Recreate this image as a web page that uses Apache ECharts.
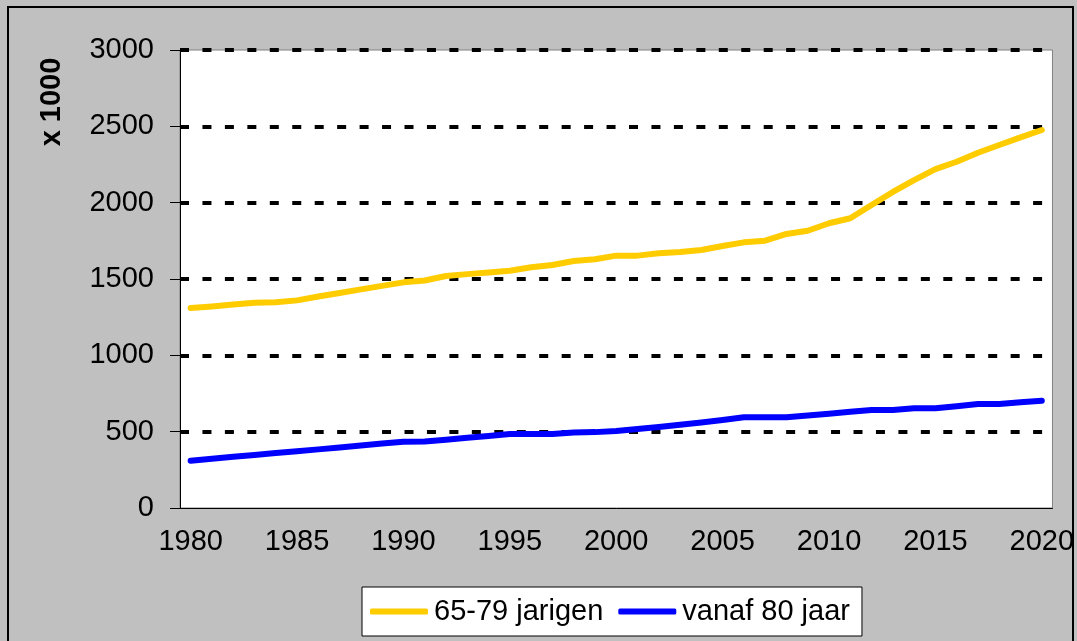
<!DOCTYPE html>
<html>
<head>
<meta charset="utf-8">
<script src="https://cdn.jsdelivr.net/npm/echarts@6/dist/echarts.min.js"></script>
<style>
  html, body { margin: 0; padding: 0; background: #c0c0c0; }
  #chart { width: 1077px; height: 641px; }
</style>
</head>
<body>
<div id="chart"></div>
<script>
// jaartallen 1980 - 2020
const years = [];
for (let y = 1980; y <= 2020; y++) years.push(String(y));

// 65-79 jarigen (x 1000)
const age65to79 = [
    1310, 1320, 1333, 1345, 1347, 1360, 1385, 1408, 1432, 1455,
    1478, 1490, 1520, 1532, 1543, 1554, 1577, 1592, 1618, 1629,
    1653, 1653, 1668, 1677, 1690, 1716, 1740, 1751, 1795, 1816,
    1865, 1898, 1985, 2070, 2148, 2220, 2268, 2327, 2378, 2428,
    2476
];

// vanaf 80 jaar (x 1000)
const age80plus = [
    310, 322, 335, 347, 360, 372, 384, 397, 409, 422,
    434, 435, 447, 460, 472, 485, 485, 485, 495, 497,
    505, 518, 530, 545, 560, 576, 594, 594, 594, 606,
    618, 630, 642, 642, 653, 653, 667, 681, 681, 692,
    703
];

const seriesNames = ['65-79 jarigen', 'vanaf 80 jaar'];
const yTicks = { min: 0, max: 3000, step: 500 };

const font = 'Arial, "Liberation Sans", sans-serif';

const myChart = echarts.init(document.getElementById('chart'));
const option = {
    backgroundColor: '#c0c0c0',
    animation: false,
    grid: {
        left: 180,
        top: 50,
        right: 20,
        bottom: 133,
        show: true,
        backgroundColor: '#ffffff',
        borderColor: '#808080',
        borderWidth: 1
    },
    legend: {
        data: seriesNames,
        left: 362,
        top: 587,
        orient: 'horizontal',
        padding: [10, 12, 10, 8],
        itemGap: 15,
        itemWidth: 58,
        itemHeight: 6,
        icon: 'roundRect',
        backgroundColor: '#ffffff',
        borderColor: '#000000',
        borderWidth: 1,
        textStyle: {
            fontFamily: font,
            fontSize: 29,
            color: '#000',
            padding: [0, 0, 0, 1]
        }
    },
    xAxis: {
        type: 'category',
        data: years,
        boundaryGap: true,
        axisLine: { lineStyle: { color: '#000', width: 1 } },
        axisTick: { interval: 4, length: 8, lineStyle: { color: '#000' } },
        axisLabel: {
            interval: 4,
            margin: 19,
            fontFamily: font,
            fontSize: 29,
            color: '#000'
        },
        splitLine: { show: false }
    },
    yAxis: {
        type: 'value',
        min: yTicks.min,
        max: yTicks.max,
        interval: yTicks.step,
        axisLine: { show: true, lineStyle: { color: '#000', width: 1 } },
        axisTick: { show: true, length: 10, lineStyle: { color: '#000' } },
        axisLabel: {
            margin: 26,
            fontFamily: font,
            fontSize: 29,
            color: '#000',
            formatter: function (v) { return String(v); }
        },
        splitLine: {
            show: true,
            showMinLine: false,
            lineStyle: { color: '#000', width: 4, type: [9, 13.45] }
        }
    },
    graphic: [
        {
            type: 'text',
            x: 52,
            y: 102,
            rotation: Math.PI / 2,
            style: {
                text: 'x 1000',
                font: 'bold 29px ' + font,
                fill: '#000',
                align: 'center',
                verticalAlign: 'middle'
            }
        },
        {
            // buitenrand van de grafiek
            type: 'rect',
            z: 100,
            shape: { x: 8, y: 7, width: 1065, height: 700 },
            style: { fill: null, stroke: '#000', lineWidth: 2 }
        }
    ],
    series: [
        {
            name: seriesNames[0],
            type: 'line',
            data: age65to79,
            symbol: 'none',
            smooth: false,
            color: '#ffcc00',
            lineStyle: { color: '#ffcc00', width: 6, cap: 'round', join: 'round' }
        },
        {
            name: seriesNames[1],
            type: 'line',
            data: age80plus,
            symbol: 'none',
            smooth: false,
            color: '#0000ff',
            lineStyle: { color: '#0000ff', width: 6, cap: 'round', join: 'round' }
        }
    ]
};
myChart.setOption(option);
</script>
</body>
</html>
